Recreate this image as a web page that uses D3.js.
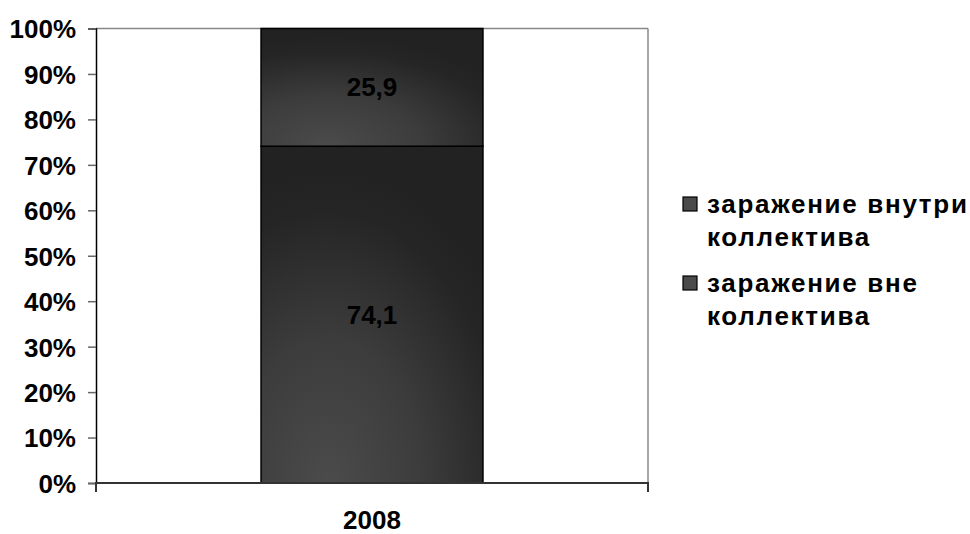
<!DOCTYPE html>
<html><head><meta charset="utf-8">
<script src="https://cdn.jsdelivr.net/npm/d3@7"></script>
<style>body{margin:0;background:#fff}svg{display:block}text{font-family:"Liberation Sans",Arial,sans-serif;font-weight:bold}</style>
</head><body>
<svg id="c" width="970" height="534"></svg>
<script>
const categories = ["2008"];
const seriesNames = ["заражение внутри коллектива", "заражение вне коллектива"];
const outsideValues = [74.1];
const insideValues = [25.9];
const yTicks = [0,10,20,30,40,50,60,70,80,90,100];

const svg = d3.select("#c");
const m = {left:96, right:648, top:28.5, bottom:483};
const x = d3.scaleBand().domain(categories).range([m.left, m.right]).paddingInner(0.4265).paddingOuter(0.4265);
const y = d3.scaleLinear().domain([0,100]).range([m.bottom, m.top]);
const FONT = "Liberation Sans, Arial, sans-serif";

const defs = svg.append("defs");
const g1 = defs.append("radialGradient").attr("id","gr").attr("cx","0.3").attr("cy","1").attr("r","0.95").attr("fx","0.3").attr("fy","1");
g1.append("stop").attr("offset","0").attr("stop-color","#4b4b4b");
g1.append("stop").attr("offset","0.45").attr("stop-color","#3c3c3c");
g1.append("stop").attr("offset","0.85").attr("stop-color","#252525");
g1.append("stop").attr("offset","1").attr("stop-color","#222");

// plot border
svg.append("line").attr("x1",m.left).attr("x2",m.right).attr("y1",m.top).attr("y2",m.top).attr("stroke","#888").attr("stroke-width",1.5);
svg.append("line").attr("x1",m.right).attr("x2",m.right).attr("y1",m.top).attr("y2",m.bottom).attr("stroke","#888").attr("stroke-width",1.5);

const stackData = categories.map((c,i)=>({cat:c, outside:outsideValues[i], inside:insideValues[i]}));
const stack = d3.stack().keys(["outside","inside"])(stackData);

const segs = svg.append("g").selectAll("g").data(stack).join("g");
segs.selectAll("rect").data(d=>d).join("rect")
  .attr("x",d=>x(d.data.cat)).attr("width",x.bandwidth())
  .attr("y",d=>y(d[1])).attr("height",d=>y(d[0])-y(d[1]))
  .attr("fill","url(#gr)").attr("stroke","#000").attr("stroke-width",1.5);

segs.selectAll("text").data(d=>d).join("text")
  .attr("x",d=>x(d.data.cat)+x.bandwidth()/2)
  .attr("y",d=>(y(d[0])+y(d[1]))/2+9)
  .attr("text-anchor","middle").attr("font-size",26).attr("fill","#000")
  .text(d=>d3.format(".1f")(d[1]-d[0]).replace(".",","));

// y axis
const ya = svg.append("g").attr("transform",`translate(${m.left},0)`)
  .call(d3.axisLeft(y).tickValues(yTicks).tickFormat(d=>d+"%").tickSize(8).tickPadding(12));
ya.select(".domain").attr("stroke","#000").attr("stroke-width",1.5);
ya.selectAll(".tick line").attr("stroke","#666").attr("stroke-width",1.5);
ya.selectAll(".tick text").attr("font-size",26).attr("font-family",FONT).attr("font-weight","bold").attr("fill","#000").attr("dy","0.36em");

// x axis
const xa = svg.append("g").attr("transform",`translate(0,${m.bottom})`)
  .call(d3.axisBottom(x).tickSize(0).tickPadding(46).tickSizeOuter(0));
xa.select(".domain").attr("stroke","#333").attr("stroke-width",2).attr("d",`M${m.left},9V0H${m.right}V9`);
xa.selectAll(".tick text").attr("font-size",26).attr("font-family",FONT).attr("font-weight","bold").attr("fill","#000").attr("dy","0");

// legend
const legendLines = [["заражение внутри","коллектива"],["заражение вне","коллектива"]];
const lg = svg.append("g").selectAll("g").data(legendLines).join("g")
  .attr("transform",(d,i)=>`translate(683,${197+i*79})`);
lg.append("rect").attr("x",0).attr("y",0).attr("width",14).attr("height",14).attr("fill","#4a4a4a").attr("stroke","#000").attr("stroke-width",1.2);
lg.selectAll("text").data(d=>d).join("text")
  .attr("x",24).attr("y",(d,i)=>16+i*33)
  .attr("font-size",26).attr("letter-spacing",1.7).attr("fill","#000").text(d=>d);
</script>
</body></html>
